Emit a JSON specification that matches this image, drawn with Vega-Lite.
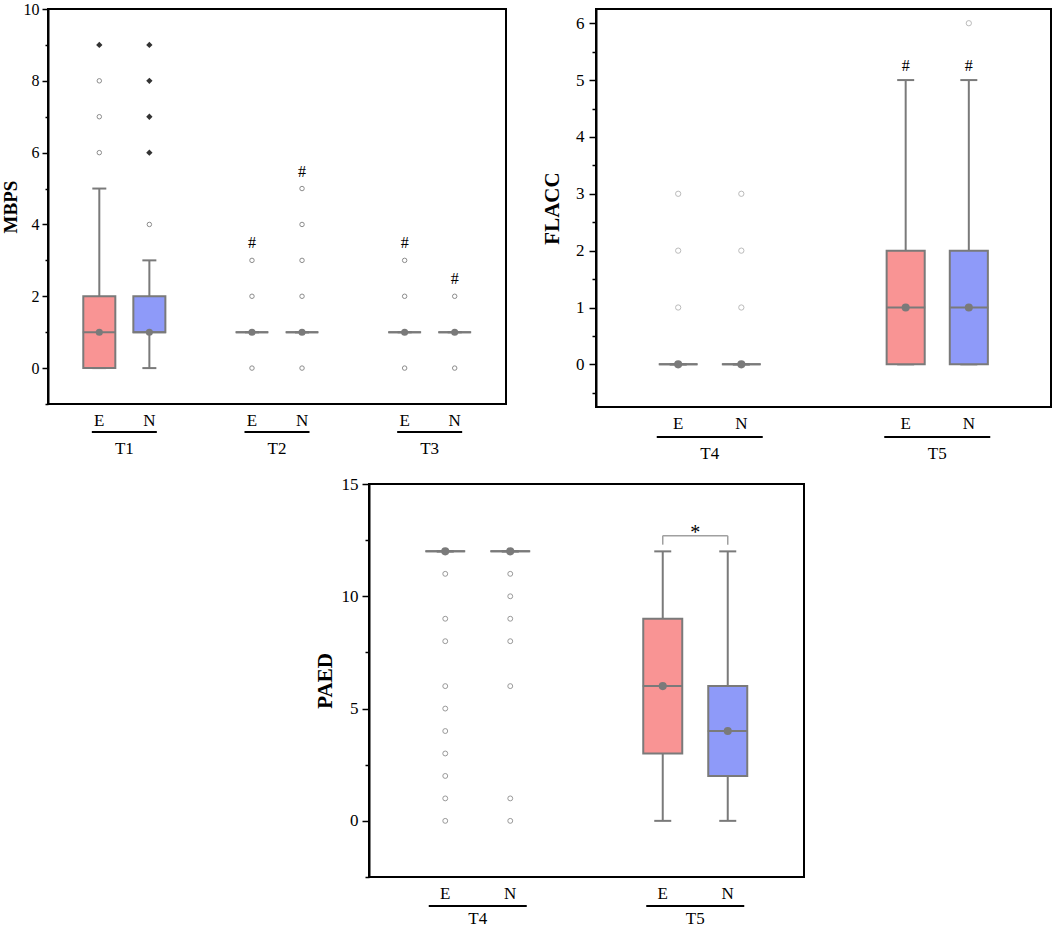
{
  "$schema": "https://vega.github.io/schema/vega-lite/v6.json",
  "padding": {"left": 0, "top": 0, "right": 0, "bottom": 0},
  "background": "white",
  "datasets": {
    "mbps_box": [
      {"group": "T1", "cond": "E", "lo": 0, "q1": 0, "median": 1, "q3": 2, "hi": 5, "mean": 1},
      {"group": "T1", "cond": "N", "lo": 0, "q1": 1, "median": 1, "q3": 2, "hi": 3, "mean": 1},
      {"group": "T2", "cond": "E", "lo": 1, "q1": 1, "median": 1, "q3": 1, "hi": 1, "mean": 1},
      {"group": "T2", "cond": "N", "lo": 1, "q1": 1, "median": 1, "q3": 1, "hi": 1, "mean": 1},
      {"group": "T3", "cond": "E", "lo": 1, "q1": 1, "median": 1, "q3": 1, "hi": 1, "mean": 1},
      {"group": "T3", "cond": "N", "lo": 1, "q1": 1, "median": 1, "q3": 1, "hi": 1, "mean": 1}
    ],
    "mbps_pts": [
      {"group": "T1", "cond": "E", "value": 6, "kind": "open"},
      {"group": "T1", "cond": "E", "value": 7, "kind": "open"},
      {"group": "T1", "cond": "E", "value": 8, "kind": "open"},
      {"group": "T1", "cond": "E", "value": 9, "kind": "filled"},
      {"group": "T1", "cond": "N", "value": 4, "kind": "open"},
      {"group": "T1", "cond": "N", "value": 6, "kind": "filled"},
      {"group": "T1", "cond": "N", "value": 7, "kind": "filled"},
      {"group": "T1", "cond": "N", "value": 8, "kind": "filled"},
      {"group": "T1", "cond": "N", "value": 9, "kind": "filled"},
      {"group": "T2", "cond": "E", "value": 0, "kind": "open"},
      {"group": "T2", "cond": "E", "value": 2, "kind": "open"},
      {"group": "T2", "cond": "E", "value": 3, "kind": "open"},
      {"group": "T2", "cond": "N", "value": 0, "kind": "open"},
      {"group": "T2", "cond": "N", "value": 2, "kind": "open"},
      {"group": "T2", "cond": "N", "value": 3, "kind": "open"},
      {"group": "T2", "cond": "N", "value": 4, "kind": "open"},
      {"group": "T2", "cond": "N", "value": 5, "kind": "open"},
      {"group": "T3", "cond": "E", "value": 0, "kind": "open"},
      {"group": "T3", "cond": "E", "value": 2, "kind": "open"},
      {"group": "T3", "cond": "E", "value": 3, "kind": "open"},
      {"group": "T3", "cond": "N", "value": 0, "kind": "open"},
      {"group": "T3", "cond": "N", "value": 2, "kind": "open"}
    ],
    "mbps_mark": [
      {"group": "T2", "cond": "E", "at": 3, "sign": "#"},
      {"group": "T2", "cond": "N", "at": 5, "sign": "#"},
      {"group": "T3", "cond": "E", "at": 3, "sign": "#"},
      {"group": "T3", "cond": "N", "at": 2, "sign": "#"}
    ],
    "flacc_box": [
      {"group": "T4", "cond": "E", "lo": 0, "q1": 0, "median": 0, "q3": 0, "hi": 0, "mean": 0},
      {"group": "T4", "cond": "N", "lo": 0, "q1": 0, "median": 0, "q3": 0, "hi": 0, "mean": 0},
      {"group": "T5", "cond": "E", "lo": 0, "q1": 0, "median": 1, "q3": 2, "hi": 5, "mean": 1},
      {"group": "T5", "cond": "N", "lo": 0, "q1": 0, "median": 1, "q3": 2, "hi": 5, "mean": 1}
    ],
    "flacc_pts": [
      {"group": "T4", "cond": "E", "value": 1, "kind": "open"},
      {"group": "T4", "cond": "E", "value": 2, "kind": "open"},
      {"group": "T4", "cond": "E", "value": 3, "kind": "open"},
      {"group": "T4", "cond": "N", "value": 1, "kind": "open"},
      {"group": "T4", "cond": "N", "value": 2, "kind": "open"},
      {"group": "T4", "cond": "N", "value": 3, "kind": "open"},
      {"group": "T5", "cond": "N", "value": 6, "kind": "open"}
    ],
    "flacc_mark": [
      {"group": "T5", "cond": "E", "at": 5, "sign": "#"},
      {"group": "T5", "cond": "N", "at": 5, "sign": "#"}
    ],
    "paed_box": [
      {"group": "T4", "cond": "E", "lo": 12, "q1": 12, "median": 12, "q3": 12, "hi": 12, "mean": 12},
      {"group": "T4", "cond": "N", "lo": 12, "q1": 12, "median": 12, "q3": 12, "hi": 12, "mean": 12},
      {"group": "T5", "cond": "E", "lo": 0, "q1": 3, "median": 6, "q3": 9, "hi": 12, "mean": 6},
      {"group": "T5", "cond": "N", "lo": 0, "q1": 2, "median": 4, "q3": 6, "hi": 12, "mean": 4}
    ],
    "paed_pts": [
      {"group": "T4", "cond": "E", "value": 0},
      {"group": "T4", "cond": "E", "value": 1},
      {"group": "T4", "cond": "E", "value": 2},
      {"group": "T4", "cond": "E", "value": 3},
      {"group": "T4", "cond": "E", "value": 4},
      {"group": "T4", "cond": "E", "value": 5},
      {"group": "T4", "cond": "E", "value": 6},
      {"group": "T4", "cond": "E", "value": 8},
      {"group": "T4", "cond": "E", "value": 9},
      {"group": "T4", "cond": "E", "value": 11},
      {"group": "T4", "cond": "N", "value": 0},
      {"group": "T4", "cond": "N", "value": 1},
      {"group": "T4", "cond": "N", "value": 6},
      {"group": "T4", "cond": "N", "value": 8},
      {"group": "T4", "cond": "N", "value": 9},
      {"group": "T4", "cond": "N", "value": 10},
      {"group": "T4", "cond": "N", "value": 11}
    ],
    "paed_sig": [
      {"group": "T5", "cond": "E", "level": 12.7, "sign": "*"},
      {"group": "T5", "cond": "N", "level": 12.7, "sign": "*"}
    ]
  },
  "vconcat": [
    {
      "hconcat": [
        {
          "width": 458,
          "height": 395,
          "encoding": {
            "x": {"field": "group", "type": "nominal", "scale": {"paddingInner": 0, "paddingOuter": 0}, "axis": null}
          },
          "resolve": {"axis": {"y": "independent"}},
          "layer": [
            {
              "data": {"name": "mbps_box"},
              "mark": {"type": "rule", "opacity": 0},
              "encoding": {
                "y": {
                  "field": "lo", "type": "quantitative", "title": null,
                  "scale": {"domain": [-1, 10], "nice": false, "zero": false},
                  "axis": {"orient": "left", "values": [-1, 1, 3, 5, 7, 9], "labels": false, "domain": false, "tickSize": 3}
                }
              }
            },
            {
              "layer": [
                {
                  "data": {"name": "mbps_box"},
                  "mark": {"type": "rule", "color": "#7a7a7a", "strokeWidth": 2},
                  "encoding": {
                    "xOffset": {"field": "cond", "type": "nominal", "scale": {"paddingInner": 0.36, "paddingOuter": 0.705}},
                    "y": {
                      "field": "lo", "type": "quantitative", "title": "MBPS",
                      "axis": {"orient": "left", "values": [0, 2, 4, 6, 8, 10], "format": "d", "tickSize": 6, "labelPadding": 3, "titlePadding": 3, "labelFontSize": 16, "titleFontSize": 19}
                    },
                    "y2": {"field": "hi"}
                  }
                },
                {
                  "data": {"name": "mbps_box"},
                  "mark": {"type": "tick", "orient": "horizontal", "size": 14, "thickness": 2, "color": "#7a7a7a", "opacity": 1},
                  "encoding": {
                    "xOffset": {"field": "cond", "type": "nominal"},
                    "y": {"field": "lo", "type": "quantitative"}
                  }
                },
                {
                  "data": {"name": "mbps_box"},
                  "mark": {"type": "tick", "orient": "horizontal", "size": 14, "thickness": 2, "color": "#7a7a7a", "opacity": 1},
                  "encoding": {
                    "xOffset": {"field": "cond", "type": "nominal"},
                    "y": {"field": "hi", "type": "quantitative"}
                  }
                },
                {
                  "data": {"name": "mbps_box"},
                  "mark": {"type": "bar", "stroke": "#7a7a7a", "strokeWidth": 2, "opacity": 1},
                  "encoding": {
                    "xOffset": {"field": "cond", "type": "nominal"},
                    "y": {"field": "q1", "type": "quantitative"},
                    "y2": {"field": "q3"},
                    "color": {"field": "cond", "type": "nominal", "scale": {"domain": ["E", "N"], "range": ["#F99494", "#8E9AF9"]}, "legend": null}
                  }
                },
                {
                  "data": {"name": "mbps_box"},
                  "mark": {"type": "tick", "orient": "horizontal", "size": 33, "thickness": 2, "color": "#7a7a7a", "opacity": 1},
                  "encoding": {
                    "xOffset": {"field": "cond", "type": "nominal"},
                    "y": {"field": "median", "type": "quantitative"}
                  }
                },
                {
                  "data": {"name": "mbps_box"},
                  "mark": {"type": "point", "shape": "circle", "filled": true, "color": "#7a7a7a", "size": 50, "opacity": 1},
                  "encoding": {
                    "xOffset": {"field": "cond", "type": "nominal"},
                    "y": {"field": "mean", "type": "quantitative"}
                  }
                },
                {
                  "data": {"name": "mbps_pts"},
                  "transform": [{"filter": "datum.kind == 'open'"}],
                  "mark": {"type": "point", "shape": "circle", "filled": false, "stroke": "#8c8c8c", "strokeWidth": 1, "size": 20, "opacity": 1},
                  "encoding": {
                    "xOffset": {"field": "cond", "type": "nominal"},
                    "y": {"field": "value", "type": "quantitative"}
                  }
                },
                {
                  "data": {"name": "mbps_pts"},
                  "transform": [{"filter": "datum.kind == 'filled'"}],
                  "mark": {"type": "point", "shape": "diamond", "filled": true, "color": "#333333", "size": 40, "opacity": 1},
                  "encoding": {
                    "xOffset": {"field": "cond", "type": "nominal"},
                    "y": {"field": "value", "type": "quantitative"}
                  }
                },
                {
                  "data": {"name": "mbps_mark"},
                  "mark": {"type": "text", "font": "Liberation Serif", "fontSize": 16, "color": "black", "baseline": "middle", "dy": -17},
                  "encoding": {
                    "xOffset": {"field": "cond", "type": "nominal"},
                    "y": {"field": "at", "type": "quantitative"},
                    "text": {"field": "sign"}
                  }
                },
                {
                  "data": {"name": "mbps_box"},
                  "mark": {"type": "text", "font": "Liberation Serif", "fontSize": 17, "color": "black", "baseline": "middle", "dy": 17},
                  "encoding": {
                    "xOffset": {"field": "cond", "type": "nominal"},
                    "y": {"datum": -1},
                    "text": {"field": "cond"}
                  }
                },
                {
                  "data": {"name": "mbps_box"},
                  "transform": [{"aggregate": [{"op": "count", "as": "n"}], "groupby": ["group"]}],
                  "mark": {"type": "tick", "orient": "horizontal", "size": 65, "thickness": 2, "color": "black", "opacity": 1, "yOffset": 28},
                  "encoding": {"y": {"datum": -1}}
                },
                {
                  "data": {"name": "mbps_box"},
                  "transform": [{"aggregate": [{"op": "count", "as": "n"}], "groupby": ["group"]}],
                  "mark": {"type": "text", "font": "Liberation Serif", "fontSize": 17, "color": "black", "baseline": "middle", "dy": 45},
                  "encoding": {"y": {"datum": -1}, "text": {"field": "group"}}
                }
              ]
            }
          ]
        },
        {
          "width": 455,
          "height": 398,
          "encoding": {
            "x": {"field": "group", "type": "nominal", "scale": {"paddingInner": 0, "paddingOuter": 0}, "axis": null}
          },
          "resolve": {"axis": {"y": "independent"}},
          "layer": [
            {
              "data": {"name": "flacc_box"},
              "mark": {"type": "rule", "opacity": 0},
              "encoding": {
                "y": {
                  "field": "lo", "type": "quantitative", "title": null,
                  "scale": {"domain": [-0.75, 6.25], "nice": false, "zero": false},
                  "axis": {"orient": "left", "values": [-0.5, 0.5, 1.5, 2.5, 3.5, 4.5, 5.5], "labels": false, "domain": false, "tickSize": 4}
                }
              }
            },
            {
              "layer": [
                {
                  "data": {"name": "flacc_box"},
                  "mark": {"type": "rule", "color": "#7a7a7a", "strokeWidth": 2},
                  "encoding": {
                    "xOffset": {"field": "cond", "type": "nominal", "scale": {"paddingInner": 0.397, "paddingOuter": 1.0}},
                    "y": {
                      "field": "lo", "type": "quantitative", "title": "FLACC",
                      "axis": {"orient": "left", "values": [0, 1, 2, 3, 4, 5, 6], "format": "d", "tickSize": 7, "labelPadding": 5, "titlePadding": 13, "labelFontSize": 17, "titleFontSize": 21}
                    },
                    "y2": {"field": "hi"}
                  }
                },
                {
                  "data": {"name": "flacc_box"},
                  "mark": {"type": "tick", "orient": "horizontal", "size": 17, "thickness": 2, "color": "#7a7a7a", "opacity": 1},
                  "encoding": {
                    "xOffset": {"field": "cond", "type": "nominal"},
                    "y": {"field": "lo", "type": "quantitative"}
                  }
                },
                {
                  "data": {"name": "flacc_box"},
                  "mark": {"type": "tick", "orient": "horizontal", "size": 17, "thickness": 2, "color": "#7a7a7a", "opacity": 1},
                  "encoding": {
                    "xOffset": {"field": "cond", "type": "nominal"},
                    "y": {"field": "hi", "type": "quantitative"}
                  }
                },
                {
                  "data": {"name": "flacc_box"},
                  "mark": {"type": "bar", "stroke": "#7a7a7a", "strokeWidth": 2, "opacity": 1},
                  "encoding": {
                    "xOffset": {"field": "cond", "type": "nominal"},
                    "y": {"field": "q1", "type": "quantitative"},
                    "y2": {"field": "q3"},
                    "color": {"field": "cond", "type": "nominal", "scale": {"domain": ["E", "N"], "range": ["#F99494", "#8E9AF9"]}, "legend": null}
                  }
                },
                {
                  "data": {"name": "flacc_box"},
                  "mark": {"type": "tick", "orient": "horizontal", "size": 39, "thickness": 2, "color": "#7a7a7a", "opacity": 1},
                  "encoding": {
                    "xOffset": {"field": "cond", "type": "nominal"},
                    "y": {"field": "median", "type": "quantitative"}
                  }
                },
                {
                  "data": {"name": "flacc_box"},
                  "mark": {"type": "point", "shape": "circle", "filled": true, "color": "#7a7a7a", "size": 65, "opacity": 1},
                  "encoding": {
                    "xOffset": {"field": "cond", "type": "nominal"},
                    "y": {"field": "mean", "type": "quantitative"}
                  }
                },
                {
                  "data": {"name": "flacc_pts"},
                  "mark": {"type": "point", "shape": "circle", "filled": false, "stroke": "#bbbbbb", "strokeWidth": 1, "size": 28, "opacity": 1},
                  "encoding": {
                    "xOffset": {"field": "cond", "type": "nominal"},
                    "y": {"field": "value", "type": "quantitative"}
                  }
                },
                {
                  "data": {"name": "flacc_mark"},
                  "mark": {"type": "text", "font": "Liberation Serif", "fontSize": 16, "color": "black", "baseline": "middle", "dy": -14},
                  "encoding": {
                    "xOffset": {"field": "cond", "type": "nominal"},
                    "y": {"field": "at", "type": "quantitative"},
                    "text": {"field": "sign"}
                  }
                },
                {
                  "data": {"name": "flacc_box"},
                  "mark": {"type": "text", "font": "Liberation Serif", "fontSize": 17, "color": "black", "baseline": "middle", "dy": 17},
                  "encoding": {
                    "xOffset": {"field": "cond", "type": "nominal"},
                    "y": {"datum": -0.75},
                    "text": {"field": "cond"}
                  }
                },
                {
                  "data": {"name": "flacc_box"},
                  "transform": [{"aggregate": [{"op": "count", "as": "n"}], "groupby": ["group"]}],
                  "mark": {"type": "tick", "orient": "horizontal", "size": 106, "thickness": 2, "color": "black", "opacity": 1, "yOffset": 30},
                  "encoding": {"y": {"datum": -0.75}}
                },
                {
                  "data": {"name": "flacc_box"},
                  "transform": [{"aggregate": [{"op": "count", "as": "n"}], "groupby": ["group"]}],
                  "mark": {"type": "text", "font": "Liberation Serif", "fontSize": 17, "color": "black", "baseline": "middle", "dy": 47},
                  "encoding": {"y": {"datum": -0.75}, "text": {"field": "group"}}
                }
              ]
            }
          ]
        }
      ],
      "spacing": 33,
      "resolve": {"scale": {"xOffset": "independent", "color": "independent"}}
    },
    {
      "hconcat": [
        {
          "width": 265,
          "height": 10,
          "view": {"stroke": null},
          "data": {"values": []},
          "mark": {"type": "point", "opacity": 0},
          "encoding": {}
        },
        {
          "width": 435,
          "height": 393,
          "encoding": {
            "x": {"field": "group", "type": "nominal", "scale": {"paddingInner": 0, "paddingOuter": 0}, "axis": null}
          },
          "layer": [
            {
              "data": {"name": "paed_box"},
              "mark": {"type": "rule", "color": "#7a7a7a", "strokeWidth": 2},
              "encoding": {
                "xOffset": {"field": "cond", "type": "nominal", "scale": {"paddingInner": 0.4, "paddingOuter": 0.873}},
                "y": {
                  "field": "lo", "type": "quantitative", "title": "PAED",
                  "scale": {"domain": [-2.5, 15], "nice": false, "zero": false},
                  "axis": {
                    "values": [-2.5, 0, 2.5, 5, 7.5, 10, 12.5, 15],
                    "labelExpr": "datum.value % 5 == 0 ? datum.label : ''",
                    "tickSize": {"condition": {"test": "datum.value % 5 == 0", "value": 7}, "value": 4},
                    "labelFontSize": 17, "titleFontSize": 21
                  }
                },
                "y2": {"field": "hi"}
              }
            },
            {
              "data": {"name": "paed_box"},
              "mark": {"type": "tick", "orient": "horizontal", "size": 17, "thickness": 2, "color": "#7a7a7a", "opacity": 1},
              "encoding": {
                "xOffset": {"field": "cond", "type": "nominal"},
                "y": {"field": "lo", "type": "quantitative"}
              }
            },
            {
              "data": {"name": "paed_box"},
              "mark": {"type": "tick", "orient": "horizontal", "size": 17, "thickness": 2, "color": "#7a7a7a", "opacity": 1},
              "encoding": {
                "xOffset": {"field": "cond", "type": "nominal"},
                "y": {"field": "hi", "type": "quantitative"}
              }
            },
            {
              "data": {"name": "paed_box"},
              "mark": {"type": "bar", "stroke": "#7a7a7a", "strokeWidth": 2, "opacity": 1},
              "encoding": {
                "xOffset": {"field": "cond", "type": "nominal"},
                "y": {"field": "q1", "type": "quantitative"},
                "y2": {"field": "q3"},
                "color": {"field": "cond", "type": "nominal", "scale": {"domain": ["E", "N"], "range": ["#F99494", "#8E9AF9"]}, "legend": null}
              }
            },
            {
              "data": {"name": "paed_box"},
              "mark": {"type": "tick", "orient": "horizontal", "size": 40, "thickness": 2, "color": "#7a7a7a", "opacity": 1},
              "encoding": {
                "xOffset": {"field": "cond", "type": "nominal"},
                "y": {"field": "median", "type": "quantitative"}
              }
            },
            {
              "data": {"name": "paed_box"},
              "mark": {"type": "point", "shape": "circle", "filled": true, "color": "#7a7a7a", "size": 65, "opacity": 1},
              "encoding": {
                "xOffset": {"field": "cond", "type": "nominal"},
                "y": {"field": "mean", "type": "quantitative"}
              }
            },
            {
              "data": {"name": "paed_pts"},
              "mark": {"type": "point", "shape": "circle", "filled": false, "stroke": "#999999", "strokeWidth": 1, "size": 24, "opacity": 1},
              "encoding": {
                "xOffset": {"field": "cond", "type": "nominal"},
                "y": {"field": "value", "type": "quantitative"}
              }
            },
            {
              "data": {"name": "paed_sig"},
              "mark": {"type": "rule", "color": "#a0a0a0", "strokeWidth": 1.5, "y2Offset": 9},
              "encoding": {
                "xOffset": {"field": "cond", "type": "nominal"},
                "y": {"field": "level", "type": "quantitative"},
                "y2": {"field": "level"}
              }
            },
            {
              "data": {"name": "paed_sig"},
              "transform": [{"aggregate": [{"op": "max", "field": "level", "as": "level"}], "groupby": ["group", "sign"]}],
              "mark": {"type": "tick", "orient": "horizontal", "size": 65, "thickness": 1.5, "color": "#a0a0a0", "opacity": 1},
              "encoding": {"y": {"field": "level", "type": "quantitative"}}
            },
            {
              "data": {"name": "paed_sig"},
              "transform": [{"aggregate": [{"op": "max", "field": "level", "as": "level"}], "groupby": ["group", "sign"]}],
              "mark": {"type": "text", "font": "Liberation Serif", "fontSize": 20, "color": "black", "baseline": "alphabetic", "dy": 3},
              "encoding": {"y": {"field": "level", "type": "quantitative"}, "text": {"field": "sign"}}
            },
            {
              "data": {"name": "paed_box"},
              "mark": {"type": "text", "font": "Liberation Serif", "fontSize": 17, "color": "black", "baseline": "middle", "dy": 17},
              "encoding": {
                "xOffset": {"field": "cond", "type": "nominal"},
                "y": {"datum": -2.5},
                "text": {"field": "cond"}
              }
            },
            {
              "data": {"name": "paed_box"},
              "transform": [{"aggregate": [{"op": "count", "as": "n"}], "groupby": ["group"]}],
              "mark": {"type": "tick", "orient": "horizontal", "size": 98, "thickness": 2, "color": "black", "opacity": 1, "yOffset": 29},
              "encoding": {"y": {"datum": -2.5}}
            },
            {
              "data": {"name": "paed_box"},
              "transform": [{"aggregate": [{"op": "count", "as": "n"}], "groupby": ["group"]}],
              "mark": {"type": "text", "font": "Liberation Serif", "fontSize": 17, "color": "black", "baseline": "middle", "dy": 42},
              "encoding": {"y": {"datum": -2.5}, "text": {"field": "group"}}
            }
          ]
        }
      ],
      "spacing": 0,
      "resolve": {"scale": {"xOffset": "independent", "color": "independent"}}
    }
  ],
  "spacing": 11,
  "resolve": {"scale": {"xOffset": "independent", "color": "independent"}},
  "config": {
    "font": "Liberation Serif",
    "view": {"stroke": "black", "strokeWidth": 2},
    "axis": {
      "labelFont": "Liberation Serif",
      "labelColor": "black",
      "titleFont": "Liberation Serif",
      "titleColor": "black",
      "titleFontWeight": "bold",
      "domainColor": "black",
      "domainWidth": 2,
      "tickColor": "black",
      "tickWidth": 1.5,
      "grid": false,
      "labelFlush": false,
      "labelOverlap": false,
      "labelPadding": 4,
      "titlePadding": 6
    }
  }
}
